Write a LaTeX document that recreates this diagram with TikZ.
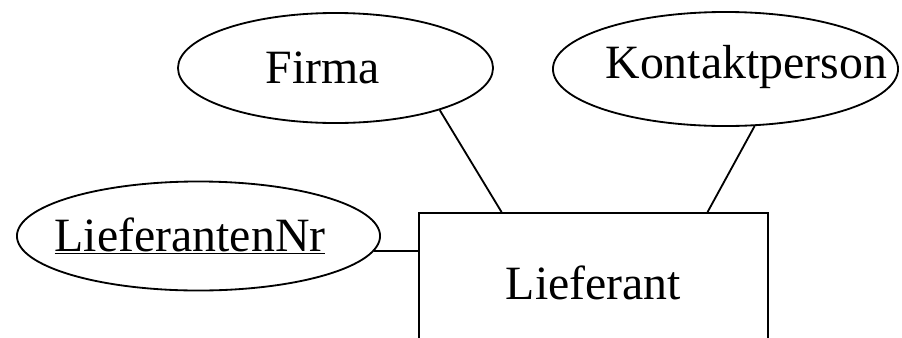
\documentclass[tikz,border=0pt]{standalone}
\usepackage{fontspec}
\setmainfont{Liberation Serif}
\usetikzlibrary{shapes.geometric, calc}

\begin{document}
\begin{tikzpicture}[
        x=0.025cm, y=-0.025cm,
        txt/.style={font=\fontsize{34}{40}\selectfont,inner sep=0pt},
        attr/.style={ellipse,draw,line width=1.3pt,inner sep=0pt},
        ent/.style={rectangle,draw,line width=1.3pt,inner sep=0pt,txt},
        conn/.style={line width=1.3pt}
      ]
        \useasboundingbox (0,0) rectangle (902,337);
        \clip (0,0) rectangle (902,337);
        % Entity
        \node[ent,minimum width=8.725cm,minimum height=3.5cm] (lief) at (593.5,283) {Lieferant};
        % Attributes
        \node[attr,minimum width=7.875cm,minimum height=2.75cm,
              label={[txt,xshift=-0.31cm]center:Firma}] (firma) at (335.5,68) {};
        \node[attr,minimum width=8.625cm,minimum height=2.85cm,
              label={[txt,xshift=0.52cm,yshift=0.05cm]center:Kontaktperson}] (kontakt) at (725.5,69) {};
        \node[attr,minimum width=9.075cm,minimum height=2.725cm,
              label={[txt,xshift=-0.21cm]center:\underline{LieferantenNr}}] (lnr) at (198.5,236) {};
        % Links
        \draw[conn] (firma.-22) -- ($(lief.north west)!0.238!(lief.north east)$);
        \draw[conn] (kontakt.-63) -- ($(lief.north west)!0.825!(lief.north east)$);
        \draw[conn] (lnr.-5) -- (lnr.-5 -| lief.west);
      \end{tikzpicture}
\end{document}
